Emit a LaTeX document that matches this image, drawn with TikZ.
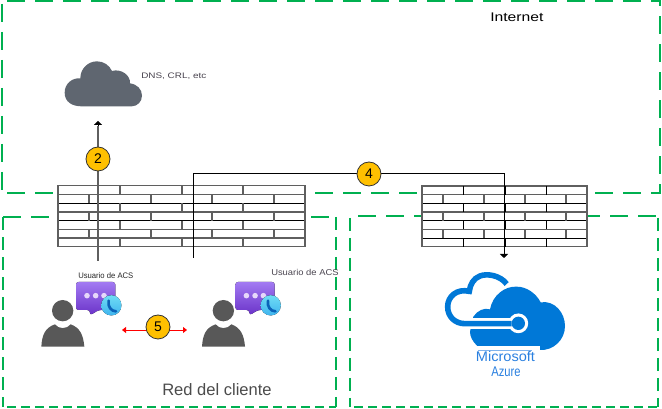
\documentclass[tikz,border=0pt]{standalone}
\usepackage{fontspec}
\setmainfont{Liberation Sans}
\usetikzlibrary{arrows.meta}
\definecolor{zonegreen}{HTML}{00B050}
\definecolor{brickgray}{HTML}{5F5F5F}
\definecolor{cloudgray}{HTML}{5F6670}
\definecolor{persongray}{HTML}{585858}
\definecolor{azureblue}{HTML}{0078D7}
\definecolor{azuretext}{HTML}{2A80E0}
\definecolor{labelgray}{HTML}{4A4550}
\definecolor{badgefill}{HTML}{FFC000}
\definecolor{chattop}{HTML}{A27AF2}
\definecolor{chatbottom}{HTML}{6A32C8}
\definecolor{dotfill}{HTML}{E6D8FA}
\definecolor{phonetop}{HTML}{6FDDF5}
\definecolor{phonebottom}{HTML}{3FB4EE}
\definecolor{phoneblue}{HTML}{0B63B8}
\tikzset{
  zoneA/.style={draw=zonegreen,line width=1.8pt,dash pattern=on 13.5pt off 7.5pt},
  zoneB/.style={draw=zonegreen,line width=1.8pt,dash pattern=on 9.5pt off 5.5pt},
  zoneC/.style={draw=zonegreen,line width=1.8pt,dash pattern=on 6.75pt off 3.75pt},
  badge/.style={circle,draw=black!80,fill=badgefill,line width=.6pt,minimum size=18pt,inner sep=0pt,font=\fontsize{10.5}{12}\selectfont},
  arrowtip/.style={-{Triangle[length=3pt,width=6pt]}},
  lbl/.style={inner sep=0pt,anchor=west},
  zoom/.style={x=.25pt,y=-.25pt},
  brick/.style={brickgray,line width=.95pt},
  mortar/.style={black,line width=.65pt},
}
\newcommand{\userfig}{%
  \fill[persongray] (188,422) ellipse [x radius=24pt/3,y radius=24pt/3];
  \fill[persongray] (124,530) .. controls (126,495) and (135,473) .. (165,463)
    .. controls (175,478) and (201,478) .. (212,463)
    .. controls (240,473) and (250,495) .. (253,530) -- cycle;
}
\newcommand{\chatfig}{%
  \fill[top color=chattop,bottom color=chatbottom,rounded corners=2pt]
    (228,336) -- (346,336) -- (346,420) -- (296,420) -- (270,436) -- (270,420) -- (228,420) -- cycle;
  \foreach \x in {261,287,312} \fill[dotfill] (\x,377) circle (2.1pt);
  \fill[top color=phonetop,bottom color=phonebottom] (334,406) circle (7.6pt);
  \draw[phoneblue,line width=2pt,line cap=round] (326,392) .. controls (322,410) and (334,424) .. (348,424);
}
\begin{document}
\begin{tikzpicture}[x=.75pt,y=-.75pt]
\useasboundingbox (0,0) rectangle (662,409);
\fill[white] (0,0) rectangle (662,409);

% zones
\draw[zoneA] (7,1) -- (661,1);
\draw[zoneA] (2,4) -- (2,193);
\draw[zoneA] (7,193) -- (660,193) -- (660,1);
\draw[zoneA] (3,217) -- (336,217);
\draw[zoneB] (3,217) -- (3,407);
\draw[zoneB] (336,217) -- (336,407);
\draw[zoneC] (7,407) -- (336,407);
\draw[zoneA] (358,216) -- (656,216);
\draw[zoneB] (350,218) -- (350,407);
\draw[zoneB] (658,218) -- (658,407);
\draw[zoneC] (354,407) -- (658,407);

% firewall 1
\fill[white] (58,185) rectangle (305,247);
\foreach \y in {194.3,212,229.3}
  \draw[brick] (58,\y) -- (305,\y);
\foreach \y in {203.3,220.7}
  \draw[mortar] (58,\y) -- (305,\y);
\draw[brick] (58,185.3) rectangle (305,246.7);
\foreach \x in {120,182,243}
  \foreach \y in {185.3,203.3,220.7,238}
    \draw[brick] (\x,\y) -- ++(0,8.8);
\foreach \x in {89,151,212,274}
  \foreach \y in {194.3,212,229.3}
    \draw[brick] (\x,\y) -- ++(0,8.8);
\draw[brick] (58,238) -- (305,238);

% firewall 2
\fill[white] (422,186) rectangle (587,247);
\foreach \y in {194.7,212,229.3}
  \draw[brick] (422,\y) -- (587,\y);
\foreach \y in {203.3,220.7,238}
  \draw[mortar] (422,\y) -- (587,\y);
\draw[brick] (422,186) rectangle (587,246.7);
\foreach \x in {463,505,546}
  \foreach \y in {186,203.3,220.7,238}
    \draw[mortar] (\x,\y) -- ++(0,8.8);
\foreach \x in {443,484,525,566}
  \foreach \y in {194.7,212,229.3}
    \draw[brick] (\x,\y) -- ++(0,8.8);

% internet cloud
\begin{scope}[zoom]
\fill[cloudgray] (245,319) .. controls (215,319) and (194,305) .. (194,278)
  .. controls (194,252) and (215,233) .. (241,235)
  .. controls (241,205) and (265,184) .. (291,184)
  .. controls (310,184) and (328,195) .. (336,213)
  .. controls (362,205) and (392,225) .. (390,250)
  .. controls (412,253) and (426,268) .. (426,287)
  .. controls (426,305) and (412,319) .. (395,319) -- cycle;
\end{scope}

% users
\begin{scope}[shift={(0,170)},zoom]
\userfig \chatfig
\end{scope}
\begin{scope}[shift={(160.7,170)},zoom]
\userfig
\end{scope}
\begin{scope}[shift={(159.4,170)},zoom]
\chatfig
\end{scope}

% azure
\begin{scope}[shift={(340,150)},zoom]
\fill[azureblue] (412,588) .. controls (398,575) and (390,560) .. (390,545)
  -- (400,500) .. controls (412,482) and (432,472) .. (450,478)
  .. controls (458,435) and (495,408) .. (530,410)
  .. controls (560,410) and (588,430) .. (602,457)
  .. controls (645,450) and (675,490) .. (675,528)
  .. controls (675,570) and (640,602) .. (600,600)
  -- (600,588) -- cycle;
\draw[white,line width=8.7pt] (385,521) -- (515,521);
\fill[white] (535,520) circle (7.4pt);
\draw[azureblue,line width=4.2pt] (500,402)
  .. controls (480,375) and (440,370) .. (420,378)
  .. controls (400,385) and (390,405) .. (388,424)
  .. controls (350,415) and (323,440) .. (323,470)
  .. controls (323,500) and (345,521) .. (375,521) -- (515,521);
\fill[azureblue] (535,520) circle (5pt);
\draw[azuretext!60,line width=.5pt] (415,601) -- (575,601);
\end{scope}

% connectors
\coordinate (u1) at (98,261);
\coordinate (cloudtip) at (98,121);
\coordinate (u2) at (193,258);
\coordinate (bend1) at (193,174);
\coordinate (bend2) at (504,174);
\coordinate (azuretip) at (504,258);
\coordinate (redL) at (122,330);
\coordinate (redR) at (187,330);
\draw[brickgray,line width=.9pt] (u1) -- (98,126);
\draw[-{Triangle[length=3pt,width=6pt]},black,line width=.1pt] (98,126) -- (cloudtip);
\draw[arrowtip,black,line width=.75pt] (u2) -- (bend1) -- (bend2) -- (azuretip);
\draw[{Triangle[length=3pt,width=4.5pt]}-{Triangle[length=3pt,width=4.5pt]},red,line width=.7pt] (redL) -- (redR);
\node[badge] (b2) at (98,159) {2};
\node[badge] (b4) at (369,174) {4};
\node[badge] (b5) at (158,327) {5};

% labels
\node[lbl,font=\fontsize{9.4}{11}\selectfont] (inet) at (490,17) {\scalebox{1.25}[1]{Internet}};
\node[lbl,text=labelgray,font=\fontsize{6}{8}\selectfont] (dns) at (141,76) {\scalebox{1.24}[1]{DNS, CRL, etc}};
\node[lbl,text=black!85,font=\fontsize{6}{8}\selectfont] (acs1) at (78,276) {\scalebox{.96}[1]{Usuario de ACS}};
\node[lbl,text=labelgray,font=\fontsize{6.4}{8}\selectfont] (acs2) at (271,272) {\scalebox{1.1}[1]{Usuario de ACS}};
\node[lbl,text=black!70,font=\fontsize{12.4}{14}\selectfont] (red) at (162,390) {Red del cliente};
\node[inner sep=0pt,text=azuretext,font=\fontsize{10.5}{12}\selectfont] (ms) at (505.5,357) {\scalebox{1.04}[1]{Microsoft}};
\node[inner sep=0pt,text=azuretext,font=\fontsize{10.5}{12}\selectfont] (az) at (506,372) {\scalebox{.8}[1]{Azure}};
\end{tikzpicture}
\end{document}
